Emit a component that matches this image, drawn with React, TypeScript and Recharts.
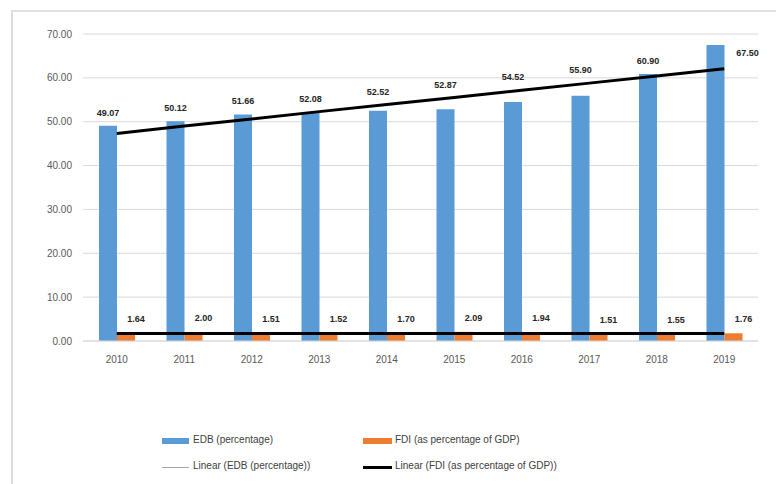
import { ComposedChart, Bar, Line, XAxis, YAxis, CartesianGrid, LabelList } from "recharts";

const years = ["2010", "2011", "2012", "2013", "2014", "2015", "2016", "2017", "2018", "2019"];
const edb = [49.07, 50.12, 51.66, 52.08, 52.52, 52.87, 54.52, 55.9, 60.9, 67.5];
const fdi = [1.64, 2.0, 1.51, 1.52, 1.7, 2.09, 1.94, 1.51, 1.55, 1.76];
// trend lines
const edbTrend = [47.3, 49.0, 50.6, 52.3, 53.9, 55.5, 57.2, 58.8, 60.4, 62.1];
const fdiTrend = [1.73, 1.73, 1.73, 1.72, 1.72, 1.72, 1.71, 1.71, 1.71, 1.7];
const yTicks = [0, 10, 20, 30, 40, 50, 60, 70];

const data = years.map((y, i) => ({
  year: y,
  edb: edb[i],
  fdi: fdi[i],
  edbTrend: edbTrend[i],
  fdiTrend: fdiTrend[i],
}));

const FONT = "'Liberation Sans', Arial, sans-serif";
const BLUE = "#5B9BD5";
const ORANGE = "#ED7D31";

// label sits above whichever is higher: the bar or the trend line
const makeLabel = (trend: number[], kind: "edb" | "fdi") => (props: any) => {
  const { x, y, width, height, value, index } = props;
  if (value == null) return null;
  const pxPerUnit = height / value;
  const base = y + height;
  const trendY = base - trend[index] * pxPerUnit;
  let lx = x + width / 2;
  let ly = Math.min(y, trendY) - 13;
  if (kind === "fdi") {
    lx = x + width / 2 + 10;
    ly = Math.min(y, trendY) - 14;
  } else if (index === trend.length - 1) {
    lx = x + width + 23;
    ly = y + 8;
  }
  return (
    <text x={lx} y={ly} textAnchor="middle" dominantBaseline="central" fontFamily={FONT} fontSize={9} fontWeight="bold" fill="#262626">
      {Number(value).toFixed(2)}
    </text>
  );
};

const legendText = { fontFamily: FONT, fontSize: 10, color: "#404040", position: "absolute" as const, whiteSpace: "nowrap" as const };

export default function App() {
  return (
    <div style={{ position: "absolute", left: 0, top: 0, width: 776, height: 484, background: "#fff", overflow: "hidden" }}>
      <div style={{ position: "absolute", left: 11, top: 10, width: 800, height: 500, borderLeft: "2px solid #dcdcdc", borderTop: "2px solid #e0e0e0" }} />
      <div style={{ position: "absolute", left: 0, top: 0 }}>
        <ComposedChart width={776} height={484} data={data} margin={{ top: 34, right: 18, left: 0, bottom: 113 }} barGap={0}>
          <CartesianGrid vertical={false} stroke="#d9d9d9" />
          <XAxis dataKey="year" height={30} tickLine={false} axisLine={{ stroke: "#d9d9d9" }} tickMargin={9}
            tick={{ fontSize: 10, fill: "#595959", fontFamily: FONT }} />
          <YAxis domain={[0, 70]} ticks={yTicks} width={83} axisLine={false} tickLine={false} tickMargin={5}
            tickFormatter={(v: number) => v.toFixed(2)} tick={{ fontSize: 10, fill: "#595959", fontFamily: FONT }} />
          <Bar dataKey="edb" fill={BLUE} barSize={18} isAnimationActive={false}>
            <LabelList dataKey="edb" content={makeLabel(edbTrend, "edb")} />
          </Bar>
          <Bar dataKey="fdi" fill={ORANGE} barSize={18} isAnimationActive={false}>
            <LabelList dataKey="fdi" content={makeLabel(fdiTrend, "fdi")} />
          </Bar>
          <Line dataKey="edbTrend" stroke="#000" strokeWidth={3} dot={false} activeDot={false} isAnimationActive={false} />
          <Line dataKey="fdiTrend" stroke="#000" strokeWidth={3} dot={false} activeDot={false} isAnimationActive={false} />
        </ComposedChart>
      </div>

      {/* Legend */}
      <div style={{ position: "absolute", left: 162, top: 438, width: 27, height: 6, background: BLUE }} />
      <div style={{ ...legendText, left: 193, top: 434 }}>EDB (percentage)</div>
      <div style={{ position: "absolute", left: 363, top: 438, width: 29, height: 6, background: ORANGE }} />
      <div style={{ ...legendText, left: 395, top: 434 }}>FDI (as percentage of GDP)</div>
      <div style={{ position: "absolute", left: 162, top: 467, width: 27, height: 1, background: "#a6a6a6" }} />
      <div style={{ ...legendText, left: 193, top: 460 }}>Linear (EDB (percentage))</div>
      <div style={{ position: "absolute", left: 363, top: 466, width: 29, height: 3, background: "#000" }} />
      <div style={{ ...legendText, left: 395, top: 460 }}>Linear (FDI (as percentage of GDP))</div>
    </div>
  );
}
